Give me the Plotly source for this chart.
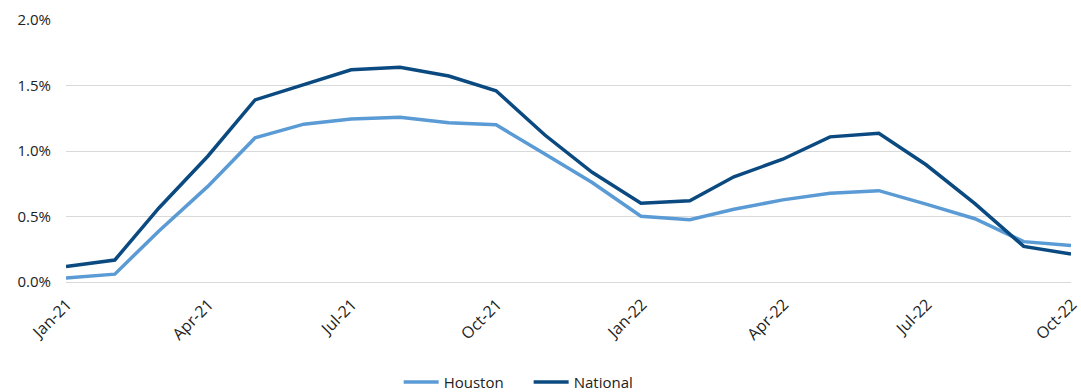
import plotly.graph_objects as go

months = ["2021-01-01", "2021-02-01", "2021-03-01", "2021-04-01", "2021-05-01", "2021-06-01",
          "2021-07-01", "2021-08-01", "2021-09-01", "2021-10-01", "2021-11-01", "2021-12-01",
          "2022-01-01", "2022-02-01", "2022-03-01", "2022-04-01", "2022-05-01", "2022-06-01",
          "2022-07-01", "2022-08-01", "2022-09-01", "2022-10-01"]
houston = [0.030, 0.060, 0.390, 0.730, 1.100, 1.205, 1.245, 1.258, 1.215, 1.200, 0.977, 0.760,
           0.502, 0.476, 0.555, 0.627, 0.678, 0.697, 0.595, 0.483, 0.308, 0.278]
national = [0.118, 0.168, 0.565, 0.960, 1.390, 1.510, 1.620, 1.640, 1.572, 1.460, 1.122, 0.837,
            0.602, 0.620, 0.803, 0.937, 1.108, 1.135, 0.895, 0.598, 0.272, 0.214]
tick_vals = ["2021-01-01", "2021-04-01", "2021-07-01", "2021-10-01", "2022-01-01",
             "2022-04-01", "2022-07-01", "2022-10-01"]
tick_text = ["Jan-21", "Apr-21", "Jul-21", "Oct-21", "Jan-22", "Apr-22", "Jul-22", "Oct-22"]
y_ticks = [0.0, 0.5, 1.0, 1.5, 2.0]
y_text = ["0.0%", "0.5%", "1.0%", "1.5%", "2.0%"]

font_family = "'Open Sans', 'Noto Sans', sans-serif"

fig = go.Figure()
fig.add_trace(go.Scatter(x=months, y=houston, mode="lines", name="Houston",
                         line=dict(color="#5B9BD5", width=3.5)))
fig.add_trace(go.Scatter(x=months, y=national, mode="lines", name="National",
                         line=dict(color="#0B4A80", width=3.5)))

fig.update_layout(
    width=1081, height=392,
    margin=dict(l=66, r=10, t=20, b=110, autoexpand=False),
    paper_bgcolor="white", plot_bgcolor="white",
    font=dict(family=font_family, size=15, color="#222222"),
    showlegend=True,
    legend=dict(orientation="h", x=0.331, xanchor="left", yref="container",
                y=0.025, yanchor="middle", entrywidth=80, entrywidthmode="pixels",
                font=dict(size=15, color="#222222"), itemwidth=35, tracegroupgap=0,
                bgcolor="rgba(0,0,0,0)"),
    xaxis=dict(type="date", range=["2021-01-01", "2022-10-01"], tickvals=tick_vals,
               ticktext=tick_text, tickangle=-45, showgrid=False, zeroline=False,
               showline=False, ticks="", automargin=False, ticklabeloverflow="allow",
               ticklabelstandoff=9, ticklabelshift=1,
               tickfont=dict(size=16, color="#222222")),
    yaxis=dict(range=[0, 2.0], tickvals=y_ticks, ticktext=y_text, showgrid=True,
               gridcolor="#D9D9D9", gridwidth=1, zeroline=True, zerolinecolor="#D9D9D9",
               zerolinewidth=1, showline=False, ticks="", ticklabelstandoff=14,
               automargin=False, tickfont=dict(size=15, color="#222222")),
)

fig.write_html("out.html")
